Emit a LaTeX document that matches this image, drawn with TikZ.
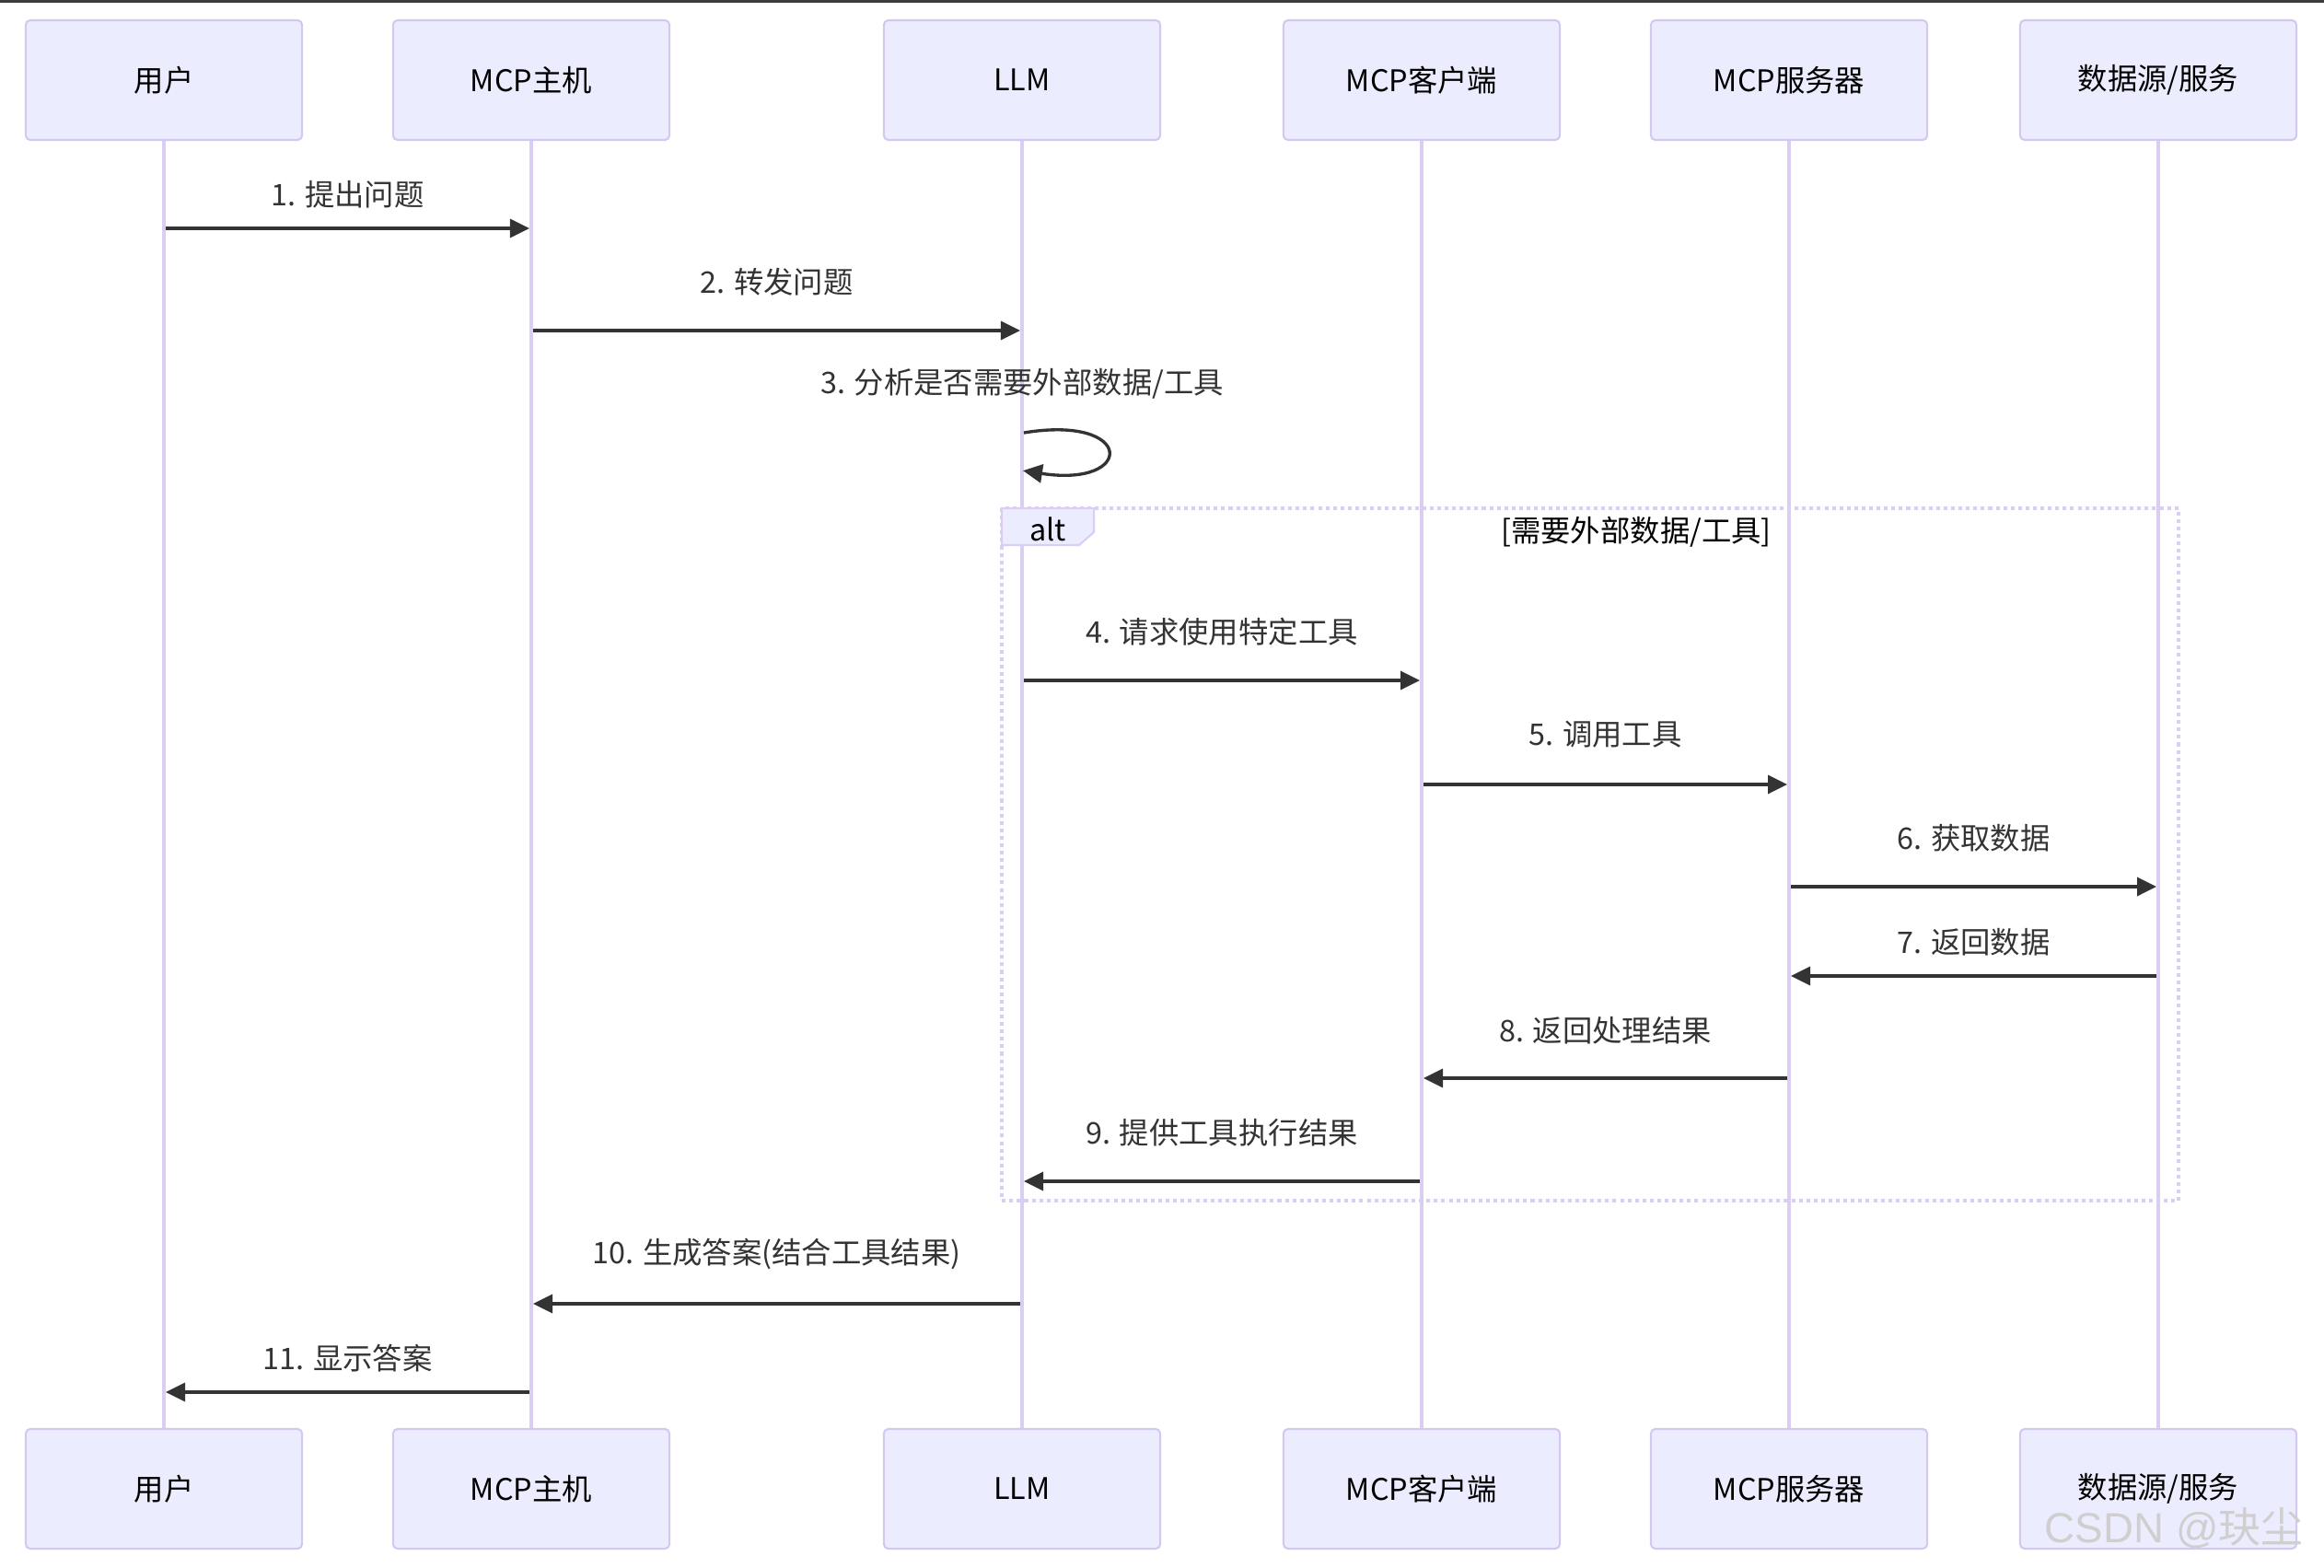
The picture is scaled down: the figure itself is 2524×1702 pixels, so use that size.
\documentclass[tikz,border=0pt]{standalone}
\usepackage{fontspec}
\setmainfont{Noto Sans CJK SC}
\newfontfamily\wmlatin{Liberation Sans}
\usetikzlibrary{arrows.meta,calc}
\definecolor{actfill}{HTML}{ECECFF}
\definecolor{actline}{HTML}{D3C8F0}
\definecolor{lifeln}{HTML}{DACEF3}
\definecolor{msgc}{HTML}{333333}
\definecolor{topc}{HTML}{3C3C3C}
\definecolor{wm}{HTML}{CFCFCF}
\begin{document}
\begin{tikzpicture}[x=0.01cm,y=-0.01cm,
  actor/.style={draw=actline, fill=actfill, line width=0.6pt, rounded corners=0.05cm,
    minimum width=3cm, minimum height=1.3cm, inner sep=0pt,
    font=\fontsize{9.2pt}{11pt}\selectfont, text=black},
  life/.style={draw=lifeln, line width=1.1pt},
  msg/.style={draw=msgc, line width=0.95pt, -{Triangle[length=0.21cm,width=0.2cm]},
    shorten >=0.02cm, shorten <=0.02cm},
  lbl/.style={font=\fontsize{9.2pt}{11pt}\selectfont, text=msgc, inner sep=0pt},
  frametxt/.style={font=\fontsize{9.2pt}{11pt}\selectfont, text=black, inner sep=0pt},
  framebox/.style={draw=lifeln, line width=1.15pt, dash pattern=on 1.15pt off 1.15pt},
  tabbox/.style={draw=lifeln, fill=actfill, line width=0.6pt},
]
\useasboundingbox[fill=white] (0,0) rectangle (2524,1702);
\fill[topc] (0,0) rectangle (2524,2.5);

% actors top
\node[actor] (userT)   at (178,87)  {用户};
\node[actor] (hostT)   at (577,87)  {MCP主机};
\node[actor] (llmT)    at (1110,87) {LLM};
\node[actor] (clientT) at (1544,87) {MCP客户端};
\node[actor] (serverT) at (1943,87) {MCP服务器};
\node[actor] (dataT)   at (2344,87) {数据源/服务};
% actors bottom
\node[actor] (userB)   at (178,1617)  {用户};
\node[actor] (hostB)   at (577,1617)  {MCP主机};
\node[actor] (llmB)    at (1110,1617) {LLM};
\node[actor] (clientB) at (1544,1617) {MCP客户端};
\node[actor] (serverB) at (1943,1617) {MCP服务器};
\node[actor] (dataB)   at (2344,1617) {数据源/服务};

% lifelines
\foreach \a in {user,host,llm,client,server,data}
  \draw[life] (\a T.south) -- (\a B.north);

% alt frame
\draw[framebox] (1088,552) rectangle (2366,1304);
\draw[tabbox] (1088,552) -- (1188,552) -- (1188,578) -- (1172,592) -- (1088,592) -- cycle;
\node[frametxt] (alttxt) at (1138,575) {alt};
\node[frametxt] (cond) at (1777,578) {[需要外部数据/工具]};

% messages
\draw[msg] (userT |- 0,248) -- (hostT |- 0,248);
\node[lbl] (l1) at ($(userT |- 0,211)!0.5!(hostT |- 0,211)$) {1. 提出问题};

\draw[msg] (hostT |- 0,359) -- (llmT |- 0,359);
\node[lbl] (l2) at ($(hostT |- 0,306)!0.5!(llmT |- 0,306)$) {2. 转发问题};

\node[lbl] (l3) at (llmT |- 0,417) {3. 分析是否需要外部数据/工具};
\draw[msg, shorten >=0.01cm, shorten <=0pt] ([xshift=0.02cm]llmT |- 0,470) .. controls (1233,450) and (1233,530) .. (llmT |- 0,511);

\draw[msg] (llmT |- 0,739) -- (clientT |- 0,739);
\node[lbl] (l4) at ($(llmT |- 0,686)!0.5!(clientT |- 0,686)$) {4. 请求使用特定工具};

\draw[msg] (clientT |- 0,852) -- (serverT |- 0,852);
\node[lbl] (l5) at ($(clientT |- 0,798)!0.5!(serverT |- 0,798)$) {5. 调用工具};

\draw[msg] (serverT |- 0,963) -- (dataT |- 0,963);
\node[lbl] (l6) at ($(serverT |- 0,910)!0.5!(dataT |- 0,910)$) {6. 获取数据};

\draw[msg] (dataT |- 0,1060) -- (serverT |- 0,1060);
\node[lbl] (l7) at ($(serverT |- 0,1023)!0.5!(dataT |- 0,1023)$) {7. 返回数据};

\draw[msg] (serverT |- 0,1171) -- (clientT |- 0,1171);
\node[lbl] (l8) at ($(clientT |- 0,1119)!0.5!(serverT |- 0,1119)$) {8. 返回处理结果};

\draw[msg] (clientT |- 0,1283) -- (llmT |- 0,1283);
\node[lbl] (l9) at ($(llmT |- 0,1230)!0.5!(clientT |- 0,1230)$) {9. 提供工具执行结果};

\draw[msg] (llmT |- 0,1416) -- (hostT |- 0,1416);
\node[lbl] (l10) at ($(hostT |- 0,1362)!0.5!(llmT |- 0,1362)$) {10. 生成答案(结合工具结果)};

\draw[msg] (hostT |- 0,1512) -- (userT |- 0,1512);
\node[lbl] (l11) at ($(userT |- 0,1475)!0.5!(hostT |- 0,1475)$) {11. 显示答案};

% watermark
\node[text=wm, inner sep=0pt, font=\fontsize{13pt}{15pt}\selectfont] (wmark) at (2361,1660) {\wmlatin CSDN @\rmfamily 玦尘};
\end{tikzpicture}
\end{document}
